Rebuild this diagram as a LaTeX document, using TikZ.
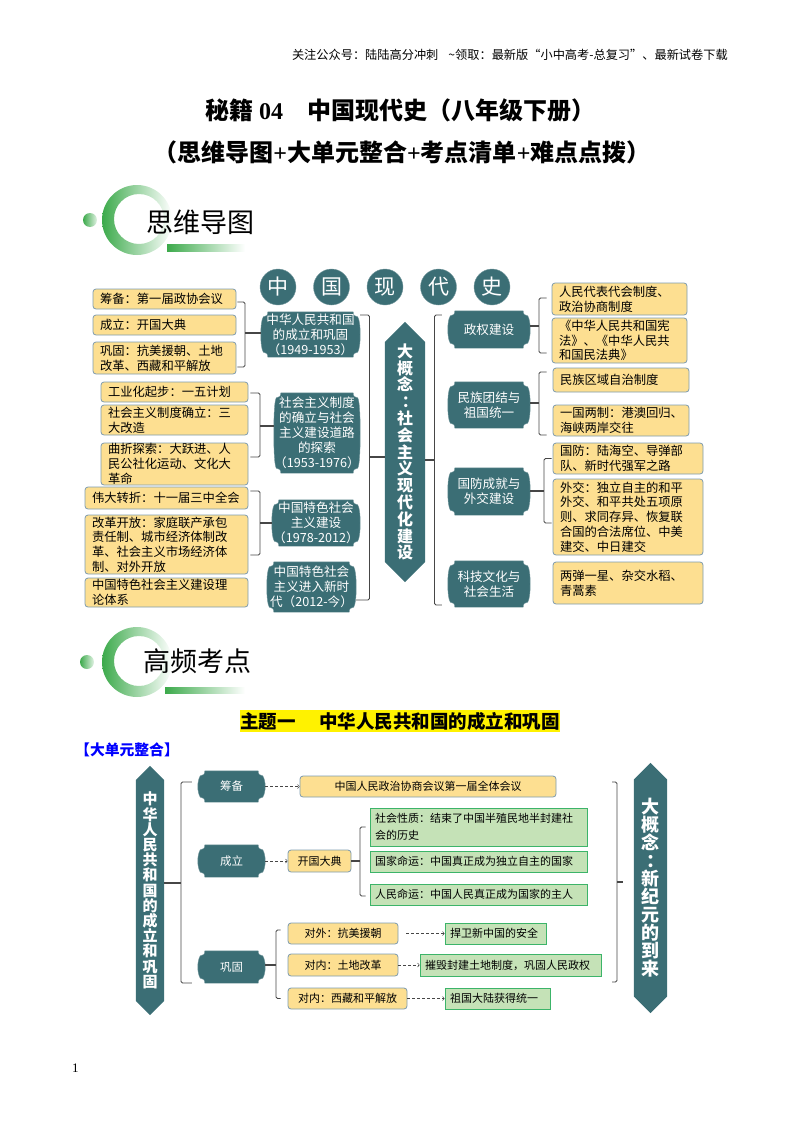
\documentclass[tikz,border=0pt]{standalone}
\usepackage{fontspec}
\setmainfont{Noto Sans CJK SC}
\newfontfamily\latinfont{Liberation Serif}
\usepackage{tikz}
\usetikzlibrary{arrows,shapes}
\usetikzlibrary{positioning}
\definecolor{tealfill}{RGB}{59,110,117}
\definecolor{boxfill}{RGB}{253,223,145}
\definecolor{boxedge}{RGB}{125,155,175}
\definecolor{leaffill}{RGB}{197,226,183}
\definecolor{leafedge}{RGB}{60,180,105}
\definecolor{ringgreen}{RGB}{60,170,75}
\definecolor{linkgray}{RGB}{70,70,70}
\makeatletter
\pgfdeclareshape{plaque}{
  \inheritsavedanchors[from=rectangle]
  \inheritanchorborder[from=rectangle]
  \inheritanchor[from=rectangle]{center}
  \inheritanchor[from=rectangle]{north}
  \inheritanchor[from=rectangle]{south}
  \inheritanchor[from=rectangle]{east}
  \inheritanchor[from=rectangle]{west}
  \backgroundpath{
    \southwest \edef\plL{\the\pgf@x}\edef\plB{\the\pgf@y}
    \northeast \edef\plR{\the\pgf@x}\edef\plT{\the\pgf@y}
    \pgfpathmoveto{\pgfpoint{\plL+7pt}{\plT}}
    \pgfpathlineto{\pgfpoint{\plR-7pt}{\plT}}
    \pgfpathquadraticcurveto{\pgfpoint{\plR-7pt}{\plT-5pt}}{\pgfpoint{\plR-2.5pt}{\plT-5pt}}
    \pgfpathquadraticcurveto{\pgfpoint{\plR}{\plT-9pt}}{\pgfpoint{\plR}{.5*\plT+.5*\plB}}
    \pgfpathquadraticcurveto{\pgfpoint{\plR}{\plB+9pt}}{\pgfpoint{\plR-2.5pt}{\plB+5pt}}
    \pgfpathquadraticcurveto{\pgfpoint{\plR-7pt}{\plB+5pt}}{\pgfpoint{\plR-7pt}{\plB}}
    \pgfpathlineto{\pgfpoint{\plL+7pt}{\plB}}
    \pgfpathquadraticcurveto{\pgfpoint{\plL+7pt}{\plB+5pt}}{\pgfpoint{\plL+2.5pt}{\plB+5pt}}
    \pgfpathquadraticcurveto{\pgfpoint{\plL}{\plB+9pt}}{\pgfpoint{\plL}{.5*\plT+.5*\plB}}
    \pgfpathquadraticcurveto{\pgfpoint{\plL}{\plT-9pt}}{\pgfpoint{\plL+2.5pt}{\plT-5pt}}
    \pgfpathquadraticcurveto{\pgfpoint{\plL+7pt}{\plT-5pt}}{\pgfpoint{\plL+7pt}{\plT}}
    \pgfpathclose
  }
}
\pgfdeclareshape{banner}{
  \inheritsavedanchors[from=rectangle]
  \inheritanchorborder[from=rectangle]
  \inheritanchor[from=rectangle]{center}
  \inheritanchor[from=rectangle]{north}
  \inheritanchor[from=rectangle]{south}
  \inheritanchor[from=rectangle]{east}
  \inheritanchor[from=rectangle]{west}
  \backgroundpath{
    \southwest \edef\plL{\the\pgf@x}\edef\plB{\the\pgf@y}
    \northeast \edef\plR{\the\pgf@x}\edef\plT{\the\pgf@y}
    \pgfpathmoveto{\pgfpoint{.5*\plL+.5*\plR}{\plT}}
    \pgfpathlineto{\pgfpoint{\plR}{\plT-.5*\plR+.5*\plL}}
    \pgfpathlineto{\pgfpoint{\plR}{\plB+.5*\plR-.5*\plL}}
    \pgfpathlineto{\pgfpoint{.5*\plL+.5*\plR}{\plB}}
    \pgfpathlineto{\pgfpoint{\plL}{\plB+.5*\plR-.5*\plL}}
    \pgfpathlineto{\pgfpoint{\plL}{\plT-.5*\plR+.5*\plL}}
    \pgfpathclose
  }
}
\makeatother
\tikzstyle{block} = [rectangle, draw=boxedge, fill=boxfill, line width=0.8pt,
    rounded corners=3pt, inner xsep=7pt, inner ysep=0pt, align=left,
    font=\fontsize{12.3}{14.8}\selectfont]
\tikzstyle{tinyblock} = [block, inner xsep=2pt, align=center,
    font=\fontsize{11}{16}\selectfont]
\tikzstyle{leaf} = [rectangle, draw=leafedge, fill=leaffill, line width=0.8pt,
    inner xsep=5pt, inner ysep=0pt, align=left,
    font=\fontsize{11}{16.5}\selectfont]
\tikzstyle{panel} = [shape=plaque, fill=tealfill, draw=tealfill!70!white, text=white,
    inner sep=0pt, align=center, font=\fontsize{12.6}{15}\selectfont]
\tikzstyle{hexbar} = [shape=banner, fill=tealfill, text=white, inner sep=0pt,
    align=center]
\tikzstyle{bubble} = [circle, fill=tealfill, draw=tealfill!70!white, text=white,
    minimum size=36pt, inner sep=0pt, font=\fontsize{21}{21}\selectfont]
\tikzstyle{brace} = [draw=linkgray, line width=0.8pt, rounded corners=1.5pt]
\tikzstyle{stem} = [draw=linkgray, line width=1.2pt]
\tikzstyle{flow} = [-to, draw=linkgray, densely dashed, line width=0.6pt]
\begin{document}
\begin{tikzpicture}[x=1pt,y=-1pt]
  \useasboundingbox (0,0) rectangle (800,1132);
  % Page texts
  \node [anchor=east, inner sep=0pt, font=\fontsize{12.2}{14}\selectfont] (pagehead) at (728,55)
  {关注公众号：陆陆高分冲刺\hspace{10pt}\textasciitilde 领取：最新版“小中高考-总复习”、最新试卷下载};
  \node [inner sep=0pt, font=\fontsize{24}{28}\bfseries] (titleone) at (400,110)
  {秘籍{\latinfont\ 04}\hspace{24pt}中国现代史（八年级下册）};
  \node [inner sep=0pt, font=\fontsize{24}{28}\bfseries] (titletwo) at (402,152)
  {（思维导图{\latinfont +}大单元整合{\latinfont +}考点清单{\latinfont +}难点点拨）};
  \node [anchor=west, inner sep=0pt, font=\fontsize{13}{15}\latinfont] (pagenum) at (72,1068) {1};
  % Section marks
  \shade [left color=ringgreen, middle color=ringgreen!55, right color=white, even odd rule]
  (137,220) circle (35pt) (139,219) circle (25pt);
  \shade [left color=ringgreen, right color=ringgreen!15] (90,220) circle (7pt);
  \shade [left color=ringgreen, middle color=ringgreen!70, right color=white] (167,244) rectangle (245,251);
  \node [anchor=west, inner sep=0pt, font=\fontsize{27}{30}\selectfont] (mindmap) at (146,222) {思维导图};
  \shade [left color=ringgreen, middle color=ringgreen!55, right color=white, even odd rule]
  (137,662) circle (35pt) (139,661) circle (25pt);
  \shade [left color=ringgreen, right color=ringgreen!15] (87,662) circle (7pt);
  \shade [left color=ringgreen, middle color=ringgreen!70, right color=white] (165,687) rectangle (245,693);
  \node [anchor=west, inner sep=0pt, font=\fontsize{27}{30}\selectfont] (hotspots) at (143,661) {高频考点};
  \node [fill=yellow, inner sep=0pt, minimum width=320pt, minimum height=22pt,
  font=\fontsize{18.5}{20}\bfseries] (themeone) at (400,721)
  {主题一\hspace{24pt}中华人民共和国的成立和巩固};
  \node [anchor=west, inner sep=0pt, text=blue, font=\fontsize{14.8}{16}\bfseries] (unitlabel) at (75,750)
  {【大单元整合】};
  % Place nodes: heading circles
  \node [bubble] (zhong) at (278,287) {中};
  \node [bubble, right of=zhong, node distance=53.5pt] (guo) {国};
  \node [bubble, right of=guo, node distance=53.5pt] (xian) {现};
  \node [bubble, right of=xian, node distance=53.5pt] (dai) {代};
  \node [bubble, right of=dai, node distance=53.5pt] (shi) {史};
  % Place nodes: left boxes
  \node [block, text width=129pt, minimum height=20pt] (prepare) at (164.5,299)
  {筹备：第一届政协会议};
  \node [block, text width=129pt, minimum height=20pt, below of=prepare, node distance=26pt] (found)
  {成立：开国大典};
  \node [block, text width=129pt, minimum height=32pt, below of=found, node distance=33pt] (secure)
  {巩固：抗美援朝、土地\\改革、西藏和平解放};
  \node [block, text width=133pt, minimum height=20pt] (industry) at (174.5,392)
  {工业化起步：一五计划};
  \node [block, text width=133pt, minimum height=30pt, below of=industry, node distance=28pt] (reform)
  {社会主义制度确立：三\\大改造};
  \node [block, text width=133pt, minimum height=42pt, below of=reform, node distance=44pt] (detour)
  {曲折探索：大跃进、人\\民公社化运动、文化大\\革命};
  \node [block, text width=149pt, minimum height=22pt] (turning) at (166.5,498)
  {伟大转折：十一届三中全会};
  \node [block, text width=149pt, minimum height=59pt, below of=turning, node distance=46.5pt] (opening)
  {改革开放：家庭联产承包\\责任制、城市经济体制改\\革、社会主义市场经济体\\制、对外开放};
  \node [block, text width=149pt, minimum height=29pt, below of=opening, node distance=48pt] (theory)
  {中国特色社会主义建设理\\论体系};
  % Place nodes: period panels
  \node [panel, minimum width=99pt, minimum height=45pt] (firstera) at (310.5,334.5)
  {中华人民共和国\\的成立和巩固\\（1949-1953）};
  \node [panel, minimum width=86pt, minimum height=80pt] (seconderas) at (317,433)
  {社会主义制度\\的确立与社会\\主义建设道路\\的探索\\（1953-1976）};
  \node [panel, minimum width=88pt, minimum height=46pt] (thirdera) at (316,523)
  {中国特色社会\\主义建设\\（1978-2012）};
  \node [panel, minimum width=89pt, minimum height=50pt] (newera) at (311.5,587)
  {中国特色社会\\主义进入新时\\代（2012-今）};
  \node [hexbar, minimum width=40pt, minimum height=260pt, font=\fontsize{16}{16.8}\bfseries] (bigidea) at (405,452)
  {大\\概\\念\\\kern.6em：\\社\\会\\主\\义\\现\\代\\化\\建\\设};
  % Place nodes: right panels
  \node [panel, minimum width=82pt, minimum height=37pt] (power) at (489,329.5) {政权建设};
  \node [panel, minimum width=82pt, minimum height=46pt, below of=power, node distance=75.5pt] (unity)
  {民族团结与\\祖国统一};
  \node [panel, minimum width=82pt, minimum height=47pt, below of=unity, node distance=86.5pt] (defence)
  {国防成就与\\外交建设};
  \node [panel, minimum width=82pt, minimum height=46pt, below of=defence, node distance=92.5pt] (science)
  {科技文化与\\社会生活};
  % Place nodes: right boxes
  \node [block, text width=121pt, minimum height=32pt] (congress) at (619.5,299)
  {人民代表代会制度、\\政治协商制度};
  \node [block, text width=121pt, minimum height=45pt, below of=congress, node distance=41.5pt] (charter)
  {《中华人民共和国宪\\法》、《中华人民共\\和国民法典》};
  \node [block, text width=122pt, minimum height=24pt] (autonomy) at (621,380)
  {民族区域自治制度};
  \node [block, text width=122pt, minimum height=31pt, below of=autonomy, node distance=40.5pt] (twosystems)
  {一国两制：港澳回归、\\海峡两岸交往};
  \node [block, text width=136pt, minimum height=31pt] (military) at (628,458.5)
  {国防：陆海空、导弹部\\队、新时代强军之路};
  \node [block, text width=136pt, minimum height=76pt, below of=military, node distance=58.5pt] (diplomacy)
  {外交：独立自主的和平\\外交、和平共处五项原\\则、求同存异、恢复联\\合国的合法席位、中美\\建交、中日建交};
  \node [block, text width=136pt, minimum height=42pt, below of=diplomacy, node distance=66pt] (culture)
  {两弹一星、杂交水稻、\\青蒿素};
  % Place nodes: unit chart
  \node [hexbar, minimum width=28pt, minimum height=249pt, font=\fontsize{15}{15.2}\bfseries] (unithex) at (150,890.5)
  {中\\华\\人\\民\\共\\和\\国\\的\\成\\立\\和\\巩\\固};
  \node [panel, minimum width=67pt, minimum height=31pt, font=\fontsize{11.5}{13}\selectfont] (unitprep) at (231.5,786.5) {筹备};
  \node [panel, minimum width=67pt, minimum height=32pt, font=\fontsize{11.5}{13}\selectfont, below of=unitprep, node distance=74.5pt] (unitfound) {成立};
  \node [panel, minimum width=67pt, minimum height=32pt, font=\fontsize{11.5}{13}\selectfont, below of=unitfound, node distance=106pt] (unitsecure) {巩固};
  \node [tinyblock, text width=252pt, minimum height=21pt] (session) at (428,786.5)
  {中国人民政治协商会议第一届全体会议};
  \node [tinyblock, text width=59pt, minimum height=22pt] (ceremony) at (319.5,861) {开国大典};
  \node [leaf, text width=207pt, minimum height=38pt] (nature) at (478.5,827)
  {社会性质：结束了中国半殖民地半封建社\\会的历史};
  \node [leaf, text width=207pt, minimum height=21pt, below of=nature, node distance=34.5pt] (fate)
  {国家命运：中国真正成为独立自主的国家};
  \node [leaf, text width=207pt, minimum height=21pt, below of=fate, node distance=33pt] (people)
  {人民命运：中国人民真正成为国家的主人};
  \node [tinyblock, text width=106pt, minimum height=21pt] (korea) at (343,933.5) {对外：抗美援朝};
  \node [tinyblock, text width=106pt, minimum height=22pt, below of=korea, node distance=31.5pt] (land) {对内：土地改革};
  \node [tinyblock, text width=115pt, minimum height=21pt] (tibet) at (347.5,998.5) {对内：西藏和平解放};
  \node [leaf, text width=91pt, minimum height=21pt] (defend) at (495.5,933.5) {捍卫新中国的安全};
  \node [leaf, text width=171pt, minimum height=22pt] (abolish) at (510.5,965) {摧毁封建土地制度，巩固人民政权};
  \node [leaf, text width=95pt, minimum height=21pt] (reunite) at (497.5,998.5) {祖国大陆获得统一};
  \node [hexbar, minimum width=33pt, minimum height=250pt, font=\fontsize{18}{18}\bfseries] (newage) at (650.5,888)
  {大\\概\\念\\\kern.6em：\\新\\纪\\元\\的\\到\\来};
  % Hubs of the brackets
  \coordinate (hubfirst) at (245,333);
  \coordinate (hubsecond) at (260,426);
  \coordinate (hubthird) at (260,523);
  \coordinate (hubeast) at (369.5,457);
  \coordinate (hubwest) at (434.5,460);
  \coordinate (hubpower) at (539,326);
  \coordinate (hubunity) at (539,403);
  \coordinate (hubdefence) at (544,491);
  \coordinate (hubunit) at (181,883);
  \coordinate (hubfound) at (360,861);
  \coordinate (hubsecure) at (276,965);
  \coordinate (hubright) at (617,882);
  \coordinate (rightop) at (612,782);
  \coordinate (rightend) at (612,982);
  % Draw edges
  \draw [brace] ([xshift=1pt,yshift=-3pt]prepare.east) -| (hubfirst) |- ([xshift=1pt,yshift=-9pt]secure.east);
  \draw [stem] (hubfirst) -- (firstera.west |- hubfirst);
  \draw [brace] ([xshift=2pt,yshift=-1pt]industry.east) -| (hubsecond) |- ([xshift=2pt,yshift=7pt]detour.east);
  \draw [stem] (hubsecond) -- (seconderas.west |- hubsecond);
  \draw [brace] ([xshift=2pt,yshift=7pt]turning.east) -| (hubthird) |- ([xshift=2pt,yshift=-10.5pt]opening.east);
  \draw [stem] (hubthird) -- (thirdera.west);
  \draw [brace] ([yshift=19.5pt]firstera.east) -| (hubeast) |- ([yshift=-13pt]newera.east);
  \draw [stem] (hubeast) -- (bigidea.west |- hubeast);
  \draw [stem] (bigidea.east |- hubwest) -- (hubwest);
  \draw [brace] ([xshift=-6pt,yshift=14.5pt]power.west) -| (hubwest) |- ([xshift=-6pt,yshift=-21pt]science.west);
  \draw [stem] (power.east |- hubpower) -- (hubpower);
  \draw [brace] ([xshift=-5pt,yshift=1pt]congress.west) -| (hubpower) |- ([xshift=-5pt,yshift=-12.5pt]charter.west);
  \draw [stem] (unity.east |- hubunity) -- (hubunity);
  \draw [brace] ([xshift=-6pt,yshift=8pt]autonomy.west) -| (hubunity) |- ([xshift=-6pt,yshift=-14.5pt]twosystems.west);
  \draw [stem] (defence.east |- hubdefence) -- (hubdefence);
  \draw [brace] ([xshift=-1pt]military.west) -| (hubdefence) |- ([xshift=-1pt,yshift=-6pt]diplomacy.west);
  \draw [stem] (unithex.east |- hubunit) -- (hubunit);
  \draw [brace] ([xshift=-6pt,yshift=4.5pt]unitprep.west) -| (hubunit) |- ([xshift=-6pt,yshift=-16pt]unitsecure.west);
  \draw [flow] (unitprep) -- (session);
  \draw [flow] (unitfound) -- (ceremony);
  \draw [stem] (ceremony) -- (hubfound);
  \draw [brace] ([xshift=-4pt]nature.west) -| (hubfound) |- ([xshift=-4pt,yshift=-1.5pt]people.west);
  \draw [stem] (unitsecure.east |- hubsecure) -- (hubsecure);
  \draw [brace] ([xshift=-7pt,yshift=3.5pt]korea.west) -| (hubsecure) |- ([xshift=-7pt]tibet.west);
  \draw [flow] ([xshift=8pt]korea.east) -- (defend);
  \draw [flow] (land) -- (abolish);
  \draw [flow] (tibet) -- (reunite);
  \draw [brace] (rightop) -| (hubright) |- (rightend);
  \draw [stem] (hubright) -- ([xshift=-11pt]newage.west |- hubright);
\end{tikzpicture}
\end{document}
